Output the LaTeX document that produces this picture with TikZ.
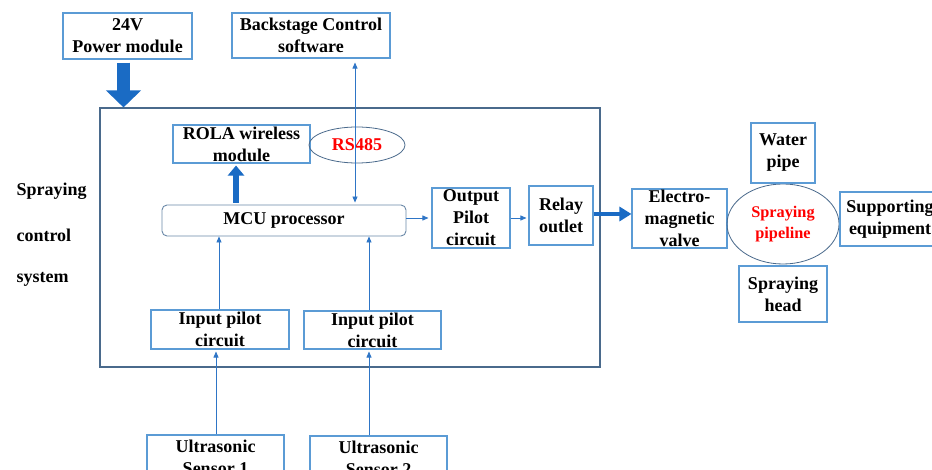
\documentclass[tikz,border=0pt]{standalone}
\usepackage{fontspec}
\setmainfont{Liberation Serif}
\usetikzlibrary{arrows.meta,shapes.geometric,calc}
\definecolor{boxblue}{HTML}{5B9BD5}
\definecolor{arrblue}{HTML}{2E75C6}
\definecolor{thickblue}{HTML}{1A6BC4}
\definecolor{framec}{HTML}{4A6A8C}
\definecolor{mcuc}{HTML}{6A88A8}
\begin{document}
\begin{tikzpicture}[x=1pt,y=-1pt,
  every node/.style={font=\fontsize{18}{22}\selectfont\bfseries, align=center, text=black},
  box/.style={draw=boxblue, line width=1.1pt, inner sep=0pt},
  ell/.style={draw=framec, line width=0.8pt, ellipse, inner sep=0pt},
  thin/.style={draw=arrblue, line width=0.8pt, -{Triangle[length=6pt,width=5pt]}},
  thinboth/.style={draw=arrblue, line width=0.8pt, {Triangle[length=6pt,width=5pt]}-{Triangle[length=6pt,width=5pt]}},
  plain/.style={font=\fontsize{18}{22}\selectfont\bfseries, align=left, anchor=west}
]
\useasboundingbox (0,0) rectangle (932,470);
\clip (0,0) rectangle (932,470);
\fill[white] (0,0) rectangle (932,470);

% main frame
\node[draw=framec, line width=1.1pt, minimum width=500pt, minimum height=259pt, inner sep=0pt] (main) at (350,237.5) {};

\node[box, minimum width=129pt, minimum height=46pt] (pw) at (127.5,36) {24V\\Power module};
\node[box, minimum width=158pt, minimum height=45pt] (bs) at (311,35.5) {Backstage Control\\software};
\node[box, minimum width=137pt, minimum height=38pt] (rola) at (241.5,144) {ROLA wireless\\module};
\node[ell, minimum width=96pt, minimum height=36pt, font=\fontsize{18}{22}\selectfont\bfseries, text=red] (rs) at (357,145) {RS485};
\node[draw=mcuc, line width=0.9pt, inner sep=0pt, rounded corners=5pt, minimum width=244pt, minimum height=31pt] (mcu) at (284,220.5) {MCU processor};
\node[box, minimum width=78pt, minimum height=60pt] (out) at (471,218) {Output\\Pilot\\circuit};
\node[box, minimum width=64pt, minimum height=59pt] (relay) at (561,215.5) {Relay\\outlet};
\node[box, minimum width=95pt, minimum height=59pt] (ev) at (679.5,218.5) {Electro-\\magnetic\\valve};
\node[ell, minimum width=112pt, minimum height=80pt, font=\fontsize{16.3}{21}\selectfont\bfseries, text=red] (sp) at (783,224) {Spraying\\pipeline};
\node[box, minimum width=64pt, minimum height=60pt] (wp) at (783,153) {Water\\pipe};
\node[box, minimum width=100pt, minimum height=54pt] (se) at (890,219) {Supporting\\equipment};
\node[box, minimum width=88pt, minimum height=56pt] (sh) at (783,294) {Spraying\\head};
\node[box, minimum width=138pt, minimum height=39pt] (in1) at (220,329.5) {Input pilot\\circuit};
\node[box, minimum width=137pt, minimum height=38pt] (in2) at (372.5,330) {Input pilot\\circuit};
\node[box, minimum width=137pt, minimum height=44pt] (us1) at (215.5,457) {Ultrasonic\\Sensor 1};
\node[box, minimum width=137pt, minimum height=44pt] (us2) at (378.5,458) {Ultrasonic\\Sensor 2};

\node[plain] (l1) at (13,191) {Spraying};
\node[plain] (l2) at (13,235) {control};
\node[plain] (l3) at (13,279) {system};

% connectors
\coordinate (pwx) at (123.5,0);
\draw[draw=thickblue, line width=13pt, -{Triangle[length=17pt,width=34pt]}]
  ($(pw.south -| pwx)+(0,3)$) -- (main.north -| pwx);
\coordinate (rox) at (236,0);
\draw[draw=thickblue, line width=6pt, -{Triangle[length=10pt,width=16pt]}]
  ($(mcu.north -| rox)+(0,-2)$) -- ($(rola.south -| rox)+(0,2)$);
\coordinate (bsx) at (355,0);
\draw[thinboth] ($(bs.south -| bsx)+(0,4)$) -- ($(mcu.north -| bsx)+(0,-2)$);
\draw[thin] (mcu.east |- out.west) -- ($(out.west)+(-3,0)$);
\draw[thin] (out.east |- 0,218) -- ($(relay.west |- 0,218)+(-2,0)$);
\draw[draw=thickblue, line width=4.5pt, -{Triangle[length=12pt,width=14pt]}]
  (relay.east |- 0,214) -- (ev.west |- 0,214);
\coordinate (i1x) at (219,0);
\coordinate (i2x) at (369,0);
\draw[thin] (in1.north -| i1x) -- (mcu.south -| i1x);
\draw[thin] (in2.north -| i2x) -- (mcu.south -| i2x);
\coordinate (u1x) at (216,0);
\draw[thin] (us1.north -| u1x) -- ($(in1.south -| u1x)+(0,2)$);
\draw[thin] (us2.north -| i2x) -- ($(in2.south -| i2x)+(0,2)$);
\end{tikzpicture}
\end{document}
